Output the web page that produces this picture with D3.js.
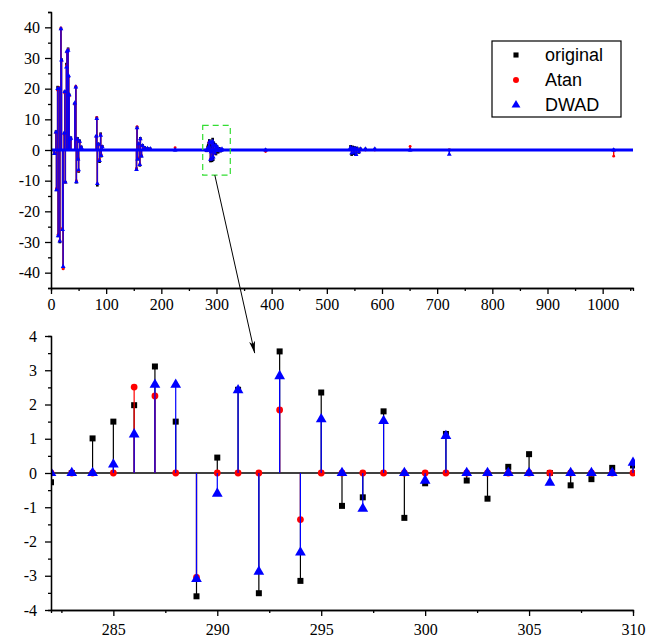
<!doctype html>
<html lang="en">
<head>
<meta charset="utf-8">
<title>original / Atan / DWAD</title>
<style>
    body { margin: 0; background: #fff; }
    .domain, .tick line { stroke: #000; stroke-width: 1.3; }
    svg .tick text { font-family: "Liberation Serif", "Times New Roman", serif !important; fill: #000; }
    .legend text { font-family: "Liberation Sans", Arial, sans-serif; font-size: 18px; }
</style>
</head>
<body>
<svg id="chart" width="647" height="637"></svg>

<script src="https://d3js.org/d3.v7.min.js"></script>
<script>
// ---- zoomed window (bottom panel), samples 282..310 ----
var winIdx  = [282, 283, 284, 285, 286, 287, 288, 289, 290, 291, 292, 293, 294, 295, 296,
               297, 298, 299, 300, 301, 302, 303, 304, 305, 306, 307, 308, 309, 310];
var winOrig = [-0.27, 0, 1.01, 1.5, 1.98, 3.11, 1.5, -3.6, 0.45, 2.43, -3.51, 3.55, -3.15, 2.35, -0.96,
               -0.71, 1.8, -1.31, -0.3, 1.14, -0.22, -0.75, 0.18, 0.55, 0, -0.36, -0.18, 0.15, 0.22];
var winAtan = [0, 0, 0, 0, 2.51, 2.25, 0, -3.05, 0, 0, 0, 1.84, -1.36, 0, 0,
               0, 0, 0, 0, 0, 0, 0, 0, 0, 0, 0, 0, 0, 0];
var winDwad = [0, 0, 0, 0.25, 1.13, 2.58, 2.58, -3.09, -0.6, 2.42, -2.88, 2.83, -2.32, 1.57, 0,
               -1.04, 1.52, 0, -0.22, 1.08, 0, 0, 0, 0, -0.28, 0, 0, 0, 0.3];

// ---- rest of the signal (top panel), only the non-zero samples ----
var sigIdx  = [6, 9, 10, 12, 13, 15, 16, 18, 19, 21, 22, 24, 25, 26, 28, 29, 31, 32, 33, 34, 36,
               43, 45, 46, 48, 49, 50, 52, 55, 82, 83, 84, 86, 88, 90, 91, 93,
               155, 156, 157, 159, 161, 162, 164, 166, 170, 175, 180, 225, 389,
               543, 545, 547, 549, 551, 553, 555, 558, 561, 570, 587, 651, 722, 1020];
var sigOrig = [-1, 6, -13, 20.5, -28, 20, -30, 39.5, 29.5, -25.8, -38.5, 5.5, 19, -10.5, 28, 32, 33, 24, 18, 3.5, 4,
               15, 20.5, -10.5, 3.8, -3, -7, 3, 1, 4.5, 10.5, -11.5, 2, -3.8, 5.3, -2, 1.2,
               -6.2, 7.4, -3, 2, -5, 3.8, -2, 1.5, 0.8, 0.5, 0.4, 0, 0,
               1.2, -1.5, 1, -1.2, 0.8, -1.5, 0.6, -0.8, 0.4, 0.3, 0.3, 0, 0, 0];
var sigAtan = [-1, 5.5, -12.5, 19.5, -27.5, 20.3, -29.5, 39.8, 29, -25.5, -38.8, 5, 18.5, -10.5, 27.5, 31.8, 32.8, 24, 17.5, 3, 3.5,
               15, 20.8, -10, 3, -2.5, -6.8, 2.5, 0.5, 4.2, 10.6, -11, 1.5, -3, 5, -1.5, 1,
               -6, 7.6, -2.5, 1.8, -4.5, 3.5, -1.8, 1.2, 0.5, 0.3, 0.2, 0.8, -0.5,
               0, 0, 0, 0, 0, 0, 0, 0, 0, 0, 0, 1.2, 0, -2];
var sigDwad = [-1.2, 5.8, -13, 20, -28, 20, -29.7, 39.5, 29.3, -26, -38, 5.5, 19, -10.5, 27, 32.2, 32.5, 24.2, 18, 3.5, 3.8,
               15.3, 20.5, -10.4, 3.5, -3, -6.5, 2.8, 0.8, 4.5, 10.2, -11, 1.8, -3.5, 4.8, -1.8, 1,
               -6.4, 7.2, -3, 2, -4.8, 3.6, -2, 1.4, 0.6, 0.5, 0.4, 0, 0,
               0.8, -1, 0.6, -0.8, 0.5, -1.5, 0.4, -0.6, 0.3, 0.3, 0.3, 0, -1.4, 0];

var seriesNames = ["original", "Atan", "DWAD"];
var seriesColors = ["#000000", "#ff0000", "#0000ff"];

var topXTicks = [0, 100, 200, 300, 400, 500, 600, 700, 800, 900, 1000];
var topYTicks = [-40, -30, -20, -10, 0, 10, 20, 30, 40];
var botXTicks = [285, 290, 295, 300, 305, 310];
var botYTicks = [-4, -3, -2, -1, 0, 1, 2, 3, 4];

var serif = "Liberation Serif";

var svg = d3.select("#chart");

var xTop = d3.scaleLinear().domain([0, 1055]).range([51, 633]);
var yTop = d3.scaleLinear().domain([-45, 45]).range([288, 12]);
var xBot = d3.scaleLinear().domain([282, 310]).range([51, 633]);
var yBot = d3.scaleLinear().domain([-4, 4]).range([610, 336]);

var seriesSymbols = [d3.symbolSquare, d3.symbolCircle, d3.symbolTriangle];

function fmt(d) { return String(d); }

// draws an axis, then the serif labels
function axis(g, ax, size) {
    g.call(ax);
    g.attr("font-family", serif).attr("font-size", size);
    g.selectAll("text")
        .attr("font-family", serif)
        .attr("font-size", size)
        .style("font-family", serif)
        .style("font-size", size + "px");
    return g;
}

// ---------- top panel ----------
var topX = sigIdx.concat(winIdx);
var topVals = [sigOrig.concat(winOrig), sigAtan.concat(winAtan), sigDwad.concat(winDwad)];

var gTop = svg.append("g");
var topSizes = [7, 6, 10];

topVals.forEach(function(vals, s) {
    var g = gTop.append("g");
    if (s == 2) {
        // zero-valued samples make a thick line along 0
        g.append("line")
            .attr("x1", xTop(0)).attr("x2", xTop(1055))
            .attr("y1", yTop(0)).attr("y2", yTop(0))
            .attr("stroke", seriesColors[2]).attr("stroke-width", 3);
    }
    g.selectAll("line.stem")
        .data(topX)
        .enter().append("line")
        .attr("class", "stem")
        .attr("x1", function(d) { return xTop(d); })
        .attr("x2", function(d) { return xTop(d); })
        .attr("y1", yTop(0))
        .attr("y2", function(d, i) { return yTop(vals[i]); })
        .attr("stroke", seriesColors[s])
        .attr("stroke-width", 1.4)
        .attr("stroke-opacity", s == 2 ? 0.85 : 1);
    g.selectAll("path")
        .data(topX)
        .enter().append("path")
        .attr("d", d3.symbol().type(seriesSymbols[s]).size(topSizes[s]))
        .attr("transform", function(d, i) { return "translate(" + xTop(d) + "," + yTop(vals[i]) + ")"; })
        .attr("fill", seriesColors[s]);
});

axis(gTop.append("g").attr("transform", "translate(0," + yTop.range()[0] + ")"),
    d3.axisBottom(xTop).tickValues(d3.range(50, 1055, 100)).tickSize(3).tickFormat(""), 16);
axis(gTop.append("g").attr("transform", "translate(0," + yTop.range()[0] + ")"),
    d3.axisBottom(xTop).tickValues(topXTicks).tickSize(6).tickPadding(5).tickFormat(fmt).tickSizeOuter(0), 16);
axis(gTop.append("g").attr("transform", "translate(" + xTop.range()[0] + ",0)"),
    d3.axisLeft(yTop).tickValues(d3.range(-45, 46, 10)).tickSize(3).tickFormat(""), 16);
axis(gTop.append("g").attr("transform", "translate(" + xTop.range()[0] + ",0)"),
    d3.axisLeft(yTop).tickValues(topYTicks).tickSize(6).tickPadding(5).tickFormat(fmt).tickSizeOuter(0), 16);

// zoom window marker
svg.append("rect")
    .attr("x", xTop(275)).attr("y", yTop(8))
    .attr("width", xTop(325) - xTop(275))
    .attr("height", yTop(-8.2) - yTop(8))
    .attr("fill", "none")
    .attr("stroke", "#33dd33")
    .attr("stroke-width", 1.2)
    .attr("stroke-dasharray", "6,4");

// legend
var legend = svg.append("g").attr("class", "legend");
legend.append("rect")
    .attr("x", 492).attr("y", 41).attr("width", 129).attr("height", 76)
    .attr("fill", "#fff").attr("stroke", "#000").attr("stroke-width", 1.2);
var legSizes = [26, 28, 34];
seriesNames.forEach(function(name, i) {
    var ly = 55 + i * 25;
    legend.append("path")
        .attr("d", d3.symbol().type(seriesSymbols[i]).size(legSizes[i]))
        .attr("transform", "translate(516," + ly + ")")
        .attr("fill", seriesColors[i]);
    legend.append("text")
        .attr("x", 545).attr("y", ly)
        .attr("dy", "0.35em")
        .text(name);
});

// ---------- bottom panel ----------
var gBot = svg.append("g");
svg.append("clipPath").attr("id", "botClip")
    .append("rect").attr("x", 51).attr("y", 320).attr("width", 584).attr("height", 300);

var plot = gBot.append("g").attr("clip-path", "url(#botClip)");
plot.append("line")
    .attr("x1", xBot(282)).attr("x2", xBot(310) + 2)
    .attr("y1", yBot(0)).attr("y2", yBot(0))
    .attr("stroke", "#000").attr("stroke-width", 1.5);

var winVals = [winOrig, winAtan, winDwad];
var botSizes = [36, 36, 50];
winVals.forEach(function(vals, s) {
    var g = plot.append("g");
    g.selectAll("line")
        .data(winIdx)
        .enter().append("line")
        .attr("x1", function(d) { return xBot(d); })
        .attr("x2", function(d) { return xBot(d); })
        .attr("y1", yBot(0))
        .attr("y2", function(d, i) { return yBot(vals[i]); })
        .attr("stroke", seriesColors[s])
        .attr("stroke-width", 1.2);
    g.selectAll("path")
        .data(winIdx)
        .enter().append("path")
        .attr("d", d3.symbol().type(seriesSymbols[s]).size(botSizes[s]))
        .attr("transform", function(d, i) { return "translate(" + xBot(d) + "," + yBot(vals[i]) + ")"; })
        .attr("fill", seriesColors[s]);
});

axis(gBot.append("g").attr("transform", "translate(0," + yBot.range()[0] + ")"),
    d3.axisBottom(xBot).tickValues([282.5, 287.5, 292.5, 297.5, 302.5, 307.5]).tickSize(3).tickFormat(""), 16);
axis(gBot.append("g").attr("transform", "translate(0," + yBot.range()[0] + ")"),
    d3.axisBottom(xBot).tickValues(botXTicks).tickSize(6).tickPadding(8).tickFormat(fmt).tickSizeOuter(0), 16);
axis(gBot.append("g").attr("transform", "translate(" + xBot.range()[0] + ",0)"),
    d3.axisLeft(yBot).tickValues(d3.range(-3.5, 4, 1)).tickSize(3).tickFormat(""), 16);
axis(gBot.append("g").attr("transform", "translate(" + xBot.range()[0] + ",0)"),
    d3.axisLeft(yBot).tickValues(botYTicks).tickSize(6).tickPadding(8).tickFormat(fmt).tickSizeOuter(0), 16);

// arrow from the dashed box to the zoomed panel
var defs = svg.append("defs");
defs.append("marker")
    .attr("id", "head")
    .attr("markerUnits", "userSpaceOnUse")
    .attr("markerWidth", 12).attr("markerHeight", 8)
    .attr("refX", 12).attr("refY", 4)
    .attr("orient", "auto")
    .append("path").attr("d", "M0,1 L12,4 L0,7 L3,4 Z").attr("fill", "#000");

svg.append("line")
    .attr("x1", xTop(297)).attr("y1", yTop(-8.2))
    .attr("x2", xBot(291.8)).attr("y2", yBot(3.5))
    .attr("stroke", "#000").attr("stroke-width", 1)
    .attr("marker-end", "url(#head)");
</script>
</body>
</html>
